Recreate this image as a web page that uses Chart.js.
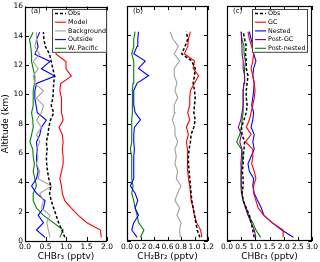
<!DOCTYPE html>
<html><head><meta charset="utf-8">
<script src="https://cdn.jsdelivr.net/npm/chart.js@4/dist/chart.umd.min.js"></script>
<style>
html,body{margin:0;padding:0;background:#fff;width:320px;height:262px;overflow:hidden}
canvas{position:absolute;left:0;top:0}
</style></head><body>
<canvas id="ca" width="320" height="262"></canvas>
<canvas id="cb" width="320" height="262"></canvas>
<canvas id="cc" width="320" height="262"></canvas>
<script>
// Altitude levels (km)
const altitude = [0.25,0.75,1.25,1.75,2.25,2.75,3.25,3.75,4.25,4.75,5.25,5.75,6.25,6.75,7.25,7.75,8.25,8.75,9.25,9.75,10.25,10.75,11.25,11.75,12.25,12.75,13.25,13.75,14.25];

// Panel (a) CHBr3 (pptv)
const aObs        = [0.97,0.90,0.82,0.76,0.70,0.64,0.60,0.63,0.58,0.55,0.53,0.52,0.54,0.52,0.56,0.58,0.62,0.70,0.64,0.68,0.69,0.70,0.72,0.68,0.64,0.60,0.50,0.46,0.45];
const aModel      = [1.86,1.84,1.51,1.30,1.13,0.97,0.91,0.89,0.85,0.89,0.93,0.93,0.91,0.93,0.91,0.83,0.93,0.89,0.89,0.89,0.85,0.87,1.13,1.00,1.00,0.76,0.74,0.73,0.72];
const aBackground = [0.61,0.57,0.53,0.61,0.40,0.45,0.36,0.65,0.32,0.36,0.28,0.32,0.28,0.36,0.28,0.40,0.28,0.40,0.45,0.28,0.45,0.24,0.20,0.32,0.20,0.36,0.24,0.28,0.28];
const aOutside    = [0.49,0.28,0.45,0.32,0.45,0.49,0.28,0.16,0.28,0.32,0.28,0.28,0.30,0.28,0.36,0.40,0.52,0.30,0.27,0.24,0.24,0.28,0.73,0.40,0.61,0.24,0.32,0.28,0.36];
const aWPacific   = [0.85,0.93,0.69,0.45,0.28,0.20,0.20,0.28,0.24,0.20,0.23,0.20,0.19,0.12,0.16,0.20,0.19,0.16,0.20,0.20,0.20,0.23,0.24,0.20,0.16,0.16,0.14,0.11,0.20];

// Panel (b) CH2Br2 (pptv)
const bObs        = [1.08,1.04,1.02,1.00,0.98,0.96,0.95,0.94,0.93,0.92,0.91,0.91,0.92,0.94,0.95,0.99,1.01,0.99,1.00,1.01,1.00,0.98,1.00,1.01,0.96,0.81,0.86,0.90,0.88];
const bModel      = [1.11,1.09,1.03,1.00,0.98,0.95,0.94,0.93,0.91,0.90,0.90,0.89,0.90,0.88,0.91,0.88,0.93,0.90,0.93,0.93,0.94,1.00,1.06,0.98,1.00,0.85,0.90,0.91,0.94];
const bBackground = [0.79,0.78,0.80,0.74,0.78,0.71,0.75,0.80,0.73,0.75,0.71,0.73,0.71,0.75,0.71,0.71,0.67,0.71,0.70,0.75,0.71,0.74,0.70,0.70,0.78,0.70,0.76,0.68,0.64];
const bOutside    = [0.15,0.07,0.10,0.17,0.12,0.16,0.12,0.05,0.10,0.10,0.10,0.10,0.11,0.10,0.10,0.11,0.20,0.12,0.10,0.10,0.10,0.15,0.32,0.17,0.27,0.10,0.15,0.16,0.17];
const bWPacific   = [0.20,0.25,0.17,0.15,0.12,0.10,0.07,0.09,0.07,0.07,0.07,0.07,0.05,0.07,0.07,0.07,0.07,0.08,0.08,0.08,0.08,0.09,0.10,0.10,0.10,0.07,0.10,0.10,0.12];

// Panel (c) CHBr3 (pptv)
const cObs        = [0.96,0.91,0.85,0.79,0.68,0.57,0.53,0.57,0.57,0.54,0.57,0.57,0.60,0.62,0.53,0.51,0.60,0.68,0.71,0.68,0.68,0.71,0.74,0.68,0.68,0.65,0.68,0.62,0.57];
const cGC         = [1.98,1.98,1.59,1.30,1.10,1.02,0.94,0.94,1.02,0.96,0.87,0.91,0.91,0.65,0.85,0.68,0.79,0.85,0.91,0.96,0.99,0.96,0.91,0.85,0.91,0.94,0.87,0.79,0.74];
const cNested     = [2.34,1.93,1.59,1.30,1.21,1.08,0.96,0.91,0.94,0.79,0.74,0.85,0.96,0.91,0.96,0.85,0.91,0.94,0.87,0.91,0.94,0.96,0.91,0.94,1.02,0.94,0.91,0.85,0.79];
const cPostGC     = [1.02,0.96,0.85,0.74,0.65,0.57,0.53,0.51,0.49,0.51,0.49,0.51,0.53,0.45,0.51,0.40,0.49,0.53,0.57,0.57,0.57,0.60,0.62,0.57,0.57,0.53,0.53,0.51,0.51];
const cPostNested = [1.19,1.02,0.91,0.76,0.68,0.57,0.51,0.49,0.51,0.49,0.53,0.57,0.51,0.34,0.45,0.51,0.53,0.57,0.57,0.57,0.57,0.60,0.62,0.62,0.65,0.60,0.60,0.53,0.49];

// Tick values
const yTicks  = [0,2,4,6,8,10,12,14,16];
const xTicksA = [0,0.5,1.0,1.5,2.0];
const xTicksB = [0,0.2,0.4,0.6,0.8,1.0,1.2];
const xTicksC = [0,0.5,1.0,1.5,2.0,2.5,3.0];

const FONT = "'DejaVu Sans', sans-serif";

function series(label, vals, color, dashed, width) {
  return {
    label: label,
    data: altitude.map((y, i) => ({x: vals[i], y: y})),
    borderColor: color,
    backgroundColor: color,
    borderWidth: width || 1.1,
    borderDash: dashed ? [3, 2] : [],
    showLine: true,
    pointRadius: 0,
    fill: false,
    tension: 0
  };
}

const framePlugin = {
  id: 'frame',
  afterDraw(chart, args, opts) {
    const ctx = chart.ctx, a = chart.chartArea;
    const xs = chart.scales.x, ys = chart.scales.y;
    ctx.save();
    ctx.strokeStyle = '#000';
    ctx.lineWidth = 1;
    ctx.setLineDash([]);
    const tl = 4;
    ctx.beginPath();
    opts.xTicks.forEach(v => {
      const px = Math.round(xs.getPixelForValue(v)) + 0.5;
      ctx.moveTo(px, a.bottom); ctx.lineTo(px, a.bottom - tl);
      ctx.moveTo(px, a.top); ctx.lineTo(px, a.top + tl);
    });
    yTicks.forEach(v => {
      const py = Math.round(ys.getPixelForValue(v)) + 0.5;
      ctx.moveTo(a.left, py); ctx.lineTo(a.left + tl, py);
      ctx.moveTo(a.right, py); ctx.lineTo(a.right - tl, py);
    });
    ctx.stroke();
    ctx.lineWidth = 1.2;
    ctx.strokeRect(Math.round(a.left) + 0.5, Math.round(a.top) + 0.5,
                   Math.round(a.right - a.left) - 1, Math.round(a.bottom - a.top) - 1);
    ctx.fillStyle = '#000';
    ctx.font = '7px ' + FONT;
    ctx.textBaseline = 'middle';
    ctx.textAlign = 'left';
    ctx.fillText(opts.label, a.left + 6, a.top + 5);
    if (opts.legend) {
      const L = opts.legend;
      const ds = chart.data.datasets;
      const h = (ds.length - 1) * L.step + 9;
      ctx.fillStyle = '#fff';
      ctx.fillRect(L.x, L.y, L.w, h);
      ctx.strokeStyle = '#444';
      ctx.lineWidth = 1;
      ctx.strokeRect(L.x + 0.5, L.y + 0.5, L.w - 1, h - 1);
      ds.forEach((d, i) => {
        const yy = L.y + 4.5 + i * L.step;
        ctx.strokeStyle = d.borderColor;
        ctx.lineWidth = d.borderWidth;
        ctx.setLineDash(d.borderDash || []);
        ctx.beginPath();
        ctx.moveTo(L.x + 3, yy); ctx.lineTo(L.x + 14, yy);
        ctx.stroke();
        ctx.setLineDash([]);
        ctx.fillStyle = '#000';
        ctx.font = L.font + 'px ' + FONT;
        ctx.textAlign = 'left';
        ctx.textBaseline = 'middle';
        ctx.fillText(d.label, L.x + 16, yy);
      });
    }
    ctx.restore();
  }
};

function makeChart(id, datasets, xMax, xTicks, xTitle, showY, pad, label, legend) {
  return new Chart(document.getElementById(id), {
    type: 'scatter',
    data: {datasets: datasets},
    options: {
      responsive: false,
      animation: false,
      devicePixelRatio: 1,
      layout: {padding: pad},
      plugins: {
        legend: {display: false},
        tooltip: {enabled: false},
        frame: {xTicks: xTicks, label: label, legend: legend}
      },
      scales: {
        x: {
          type: 'linear', min: 0, max: xMax,
          afterBuildTicks: s => { s.ticks = xTicks.map(v => ({value: v})); },
          afterFit: s => { s.height = 21; },
          grid: {display: false, drawTicks: false},
          border: {display: false},
          ticks: {
            color: '#000', font: {family: FONT, size: 7.5}, padding: 2,
            maxRotation: 0, autoSkip: false,
            callback: v => Number(v).toFixed(1)
          },
          title: {display: true, text: xTitle, color: '#000', font: {family: FONT, size: 9}, padding: {top: 0, bottom: 0}}
        },
        y: {
          type: 'linear', min: 0, max: 16, display: showY,
          afterBuildTicks: s => { s.ticks = yTicks.map(v => ({value: v})); },
          afterFit: s => { s.width = showY ? 25 : 0; },
          grid: {display: false, drawTicks: false},
          border: {display: false},
          ticks: {color: '#000', font: {family: FONT, size: 7.5}, padding: 2, autoSkip: false},
          title: {display: true, text: 'Altitude (km)', color: '#000', font: {family: FONT, size: 9}, padding: {top: 0, bottom: 0}}
        }
      }
    },
    plugins: [framePlugin]
  });
}

makeChart('ca', [
  series('Obs', aObs, '#000000', true, 1.5),
  series('Model', aModel, '#ff0000'),
  series('Background', aBackground, '#a0a0a0'),
  series('Outside', aOutside, '#0000ff'),
  series('W. Pacific', aWPacific, '#008000')
], 2, xTicksA, 'CHBr\u2083 (pptv)', true, {left: 0, right: 213, top: 6, bottom: 0}, '(a)',
  {x: 52, y: 9, w: 55, step: 8.7, font: 6.4});

makeChart('cb', [
  series('Obs', bObs, '#000000', true, 1.5),
  series('Model', bModel, '#ff0000'),
  series('Background', bBackground, '#a0a0a0'),
  series('Outside', bOutside, '#0000ff'),
  series('W. Pacific', bWPacific, '#008000')
], 1.2, xTicksB, 'CH\u2082Br\u2082 (pptv)', false, {left: 127, right: 112, top: 6, bottom: 0}, '(b)', null);

makeChart('cc', [
  series('Obs', cObs, '#000000', true, 1.5),
  series('GC', cGC, '#ff0000'),
  series('Nested', cNested, '#0000ff'),
  series('Post-GC', cPostGC, '#800080'),
  series('Post-nested', cPostNested, '#008000')
], 3, xTicksC, 'CHBr\u2083 (pptv)', false, {left: 227, right: 5, top: 6, bottom: 0}, '(c)',
  {x: 252, y: 9, w: 56, step: 8.7, font: 6.4});
</script>
</body></html>
